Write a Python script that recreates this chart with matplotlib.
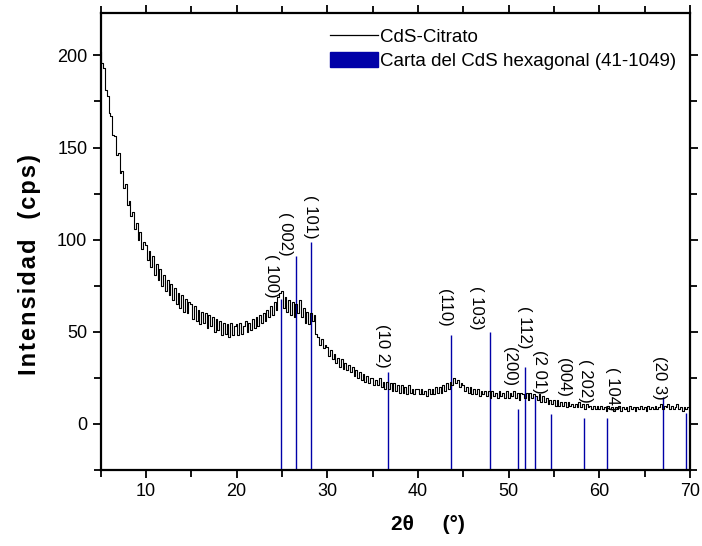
import matplotlib
matplotlib.use("Agg")
import matplotlib.pyplot as plt
from matplotlib.lines import Line2D
from matplotlib.patches import Patch
import numpy as np

plt.rcParams['font.family'] = ['Liberation Sans', 'DejaVu Sans']

# measured pattern, 0.2 deg step from 5 to 70
two_theta = np.linspace(5, 70, 326)
counts = [
    # 5.0 - 9.8
    202, 196, 193, 181, 178, 169, 167, 157, 156, 146, 147, 136, 137, 128, 130, 119, 121, 113, 115, 106,
    109, 100, 104, 95, 99,
    # 10.0 - 14.8
    97, 89, 94, 85, 91, 81, 87, 78, 84, 75, 81, 72, 78, 70, 76, 67, 74, 65, 71, 63,
    70, 61, 68, 60, 66,
    # 15.0 - 19.8
    65, 57, 64, 56, 62, 54, 61, 55, 60, 52, 59, 53, 58, 50, 57, 51, 56, 48, 55, 49,
    54, 47, 55, 48, 53,
    # 20.0 - 24.8
    54, 48, 55, 49, 53, 56, 50, 55, 51, 57, 52, 58, 53, 59, 55, 60, 56, 62, 58, 64,
    59, 66, 62, 69, 71,
    # 25.0 - 29.8
    72, 63, 69, 61, 67, 59, 66, 58, 65, 60, 67, 58, 63, 55, 61, 54, 60, 56, 59, 49,
    47, 43, 46, 41, 43,
    # 30.0 - 34.8
    42, 37, 40, 35, 38, 33, 36, 31, 35, 30, 33, 29, 32, 28, 31, 26, 29, 25, 28, 24,
    27, 23, 26, 22, 25,
    # 35.0 - 39.8
    25, 21, 24, 21, 25, 20, 23, 19, 23, 19, 22, 18, 22, 18, 21, 17, 21, 17, 20, 16,
    21, 17, 19, 16, 19,
    # 40.0 - 44.8
    19, 16, 19, 16, 18, 15, 19, 16, 19, 16, 20, 17, 20, 17, 21, 18, 22, 19, 23, 21,
    25, 22, 24, 20, 22,
    # 45.0 - 49.8
    21, 18, 20, 17, 20, 16, 19, 16, 19, 15, 18, 16, 18, 15, 18, 14, 18, 15, 17, 14,
    18, 15, 17, 14, 18,
    # 50.0 - 54.8
    14, 17, 15, 18, 14, 17, 13, 17, 16, 14, 17, 13, 17, 14, 16, 15, 13, 16, 12, 15,
    12, 14, 11, 13, 11,
    # 55.0 - 59.8
    13, 10, 13, 10, 12, 10, 12, 9, 12, 10, 11, 9, 11, 9, 12, 9, 11, 8, 11, 9,
    10, 8, 10, 8, 10,
    # 60.0 - 64.8
    8, 10, 8, 9, 7, 10, 8, 9, 7, 9, 8, 10, 7, 9, 8, 9, 7, 10, 8, 9,
    7, 9, 8, 10, 8,
    # 65.0 - 69.8
    9, 7, 10, 8, 9, 8, 10, 8, 9, 11, 8, 10, 9, 11, 8, 10, 8, 9, 11, 8,
    9, 7, 9, 8, 9,
    # 70.0
    8,
]

# reference card CdS hexagonal 41-1049 (as drawn)
card_pos = [24.85, 26.6, 28.25, 36.65, 43.7, 47.95, 51.05, 51.85, 52.95, 54.7, 58.3, 60.85, 67.0, 69.55]
card_height = [68, 91, 99, 28, 48.5, 50, 8, 31, 15, 5.5, 3, 3, 14.5, 6]
hkl = ['( 100)', '( 002)', '( 101)', '(10 2)', '(110)', '( 103)', '(200)', '( 112)',
       '(2 01)', '(004)', '( 202)', '( 104)', '(20 3)']

# label anchor (x, top y) for each hkl label
label_pos = [(23.8, 92), (25.45, 115), (28.2, 124), (36.1, 54), (42.9, 73), (46.5, 75),
             (50.15, 42), (51.8, 64), (53.45, 40), (56.0, 36), (58.5, 35), (61.4, 31),
             (66.6, 37)]

blue = '#0000A8'
hs = '\u200a'

fig = plt.figure(figsize=(7.02, 5.46), dpi=100)
ax = fig.add_axes([100.5 / 702, 76 / 546, 589.5 / 702, 457 / 546])

ax.vlines(card_pos, -25, card_height, color=blue, lw=1.0, zorder=2)
ax.plot(two_theta, counts, color='black', lw=0.8, drawstyle='steps-mid', zorder=3)

for text, (lx, ly) in zip(hkl, label_pos):
    ax.text(lx, ly, text, rotation=-90, ha='center', va='top', fontsize=12)

ax.set_xlim(5, 70)
ax.set_ylim(-25, 223)
ax.set_xticks([10, 20, 30, 40, 50, 60, 70])
ax.set_xticks(np.arange(5, 71, 5), minor=True)
ax.set_yticks([0, 50, 100, 150, 200])
ax.set_yticks(np.arange(-25, 224, 25), minor=True)
ax.tick_params(which='both', direction='out', top=True, right=True,
               labeltop=False, labelright=False, width=1.3, labelsize=13)
ax.tick_params(which='major', length=6)
ax.tick_params(which='minor', length=5)
for s in ax.spines.values():
    s.set_linewidth(1.6)

ax.set_xlabel('2θ     (°)', fontsize=15, fontweight='bold')
ax.xaxis.set_label_coords(0.555, -0.098)
ax.set_ylabel(hs.join('Intensidad') + '   ' + hs.join('(cps)'), fontsize=17, fontweight='bold')
ax.yaxis.set_label_coords(-0.101, 0.449)

handles = [Line2D([], [], color='black', lw=0.9),
           Patch(facecolor=blue, edgecolor=blue)]
ax.legend(handles, ['CdS-Citrato', 'Carta del CdS hexagonal (41-1049)'],
          loc='upper left', bbox_to_anchor=(330 / 702, 1 - 28 / 546),
          bbox_transform=fig.transFigure, frameon=False, fontsize=13.5,
          borderpad=0, borderaxespad=0, handlelength=2.56, handleheight=0.85,
          handletextpad=0.1, labelspacing=0.3)

fig.savefig('out.png', dpi=100)
